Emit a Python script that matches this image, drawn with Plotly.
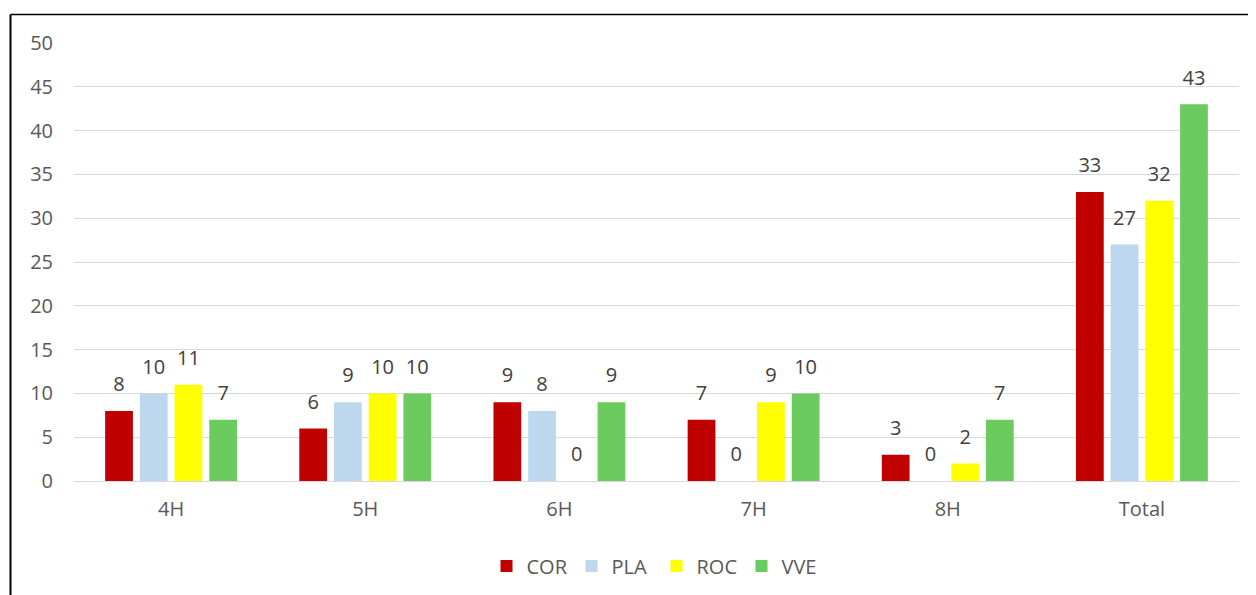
import plotly.graph_objects as go

categories = ["4H", "5H", "6H", "7H", "8H", "Total"]
series_names = ["COR", "PLA", "ROC", "VVE"]
cor = [8, 6, 9, 7, 3, 33]
pla = [10, 9, 8, 0, 0, 27]
roc = [11, 10, 0, 9, 2, 32]
vve = [7, 10, 9, 10, 7, 43]
colors = ["#C00000", "#BDD7EE", "#FFFF00", "#6BCB5E"]
y_ticks = [0, 5, 10, 15, 20, 25, 30, 35, 40, 45, 50]

FONT = "'Open Sans', Lato, sans-serif"
FS = 20

fig = go.Figure()
for name, vals, col in zip(series_names, [cor, pla, roc, vve], colors):
    fig.add_trace(go.Bar(
        x=categories, y=vals, name=name, offsetgroup=name,
        marker=dict(color=col, line=dict(width=0)),
    ))
for name, vals in zip(series_names, [cor, pla, roc, vve]):
    fig.add_trace(go.Scatter(
        x=categories, y=vals, offsetgroup=name, showlegend=False,
        mode="markers+text", marker=dict(size=22, opacity=0),
        text=[str(v) for v in vals], textposition="top center",
        textfont=dict(size=FS, color="#404040", family=FONT),
        cliponaxis=False, hoverinfo="skip",
    ))

# browser body margin shifts the figure by 8px
OFF = 8
L, R, T, B = 74 - OFF, 17 + OFF, 43 - OFF, 114 + OFF
W, H = 1256, 595
pw, ph = W - L - R, H - T - B

def px_x(x):
    return (x - OFF - L) / pw

def px_y(y):
    return (H - B - (y - OFF)) / ph

fig.update_layout(
    width=W, height=H,
    margin=dict(l=L, r=R, t=T, b=B, autoexpand=False),
    plot_bgcolor="white", paper_bgcolor="white",
    barmode="group", bargap=0.285, bargroupgap=0.2,
    scattermode="group", scattergap=0.285,
    font=dict(family=FONT, color="#595959", size=FS),
    showlegend=True,
    legend=dict(orientation="h", x=0.5, xanchor="center", y=px_y(566), yanchor="middle",
                font=dict(size=FS, color="#595959"), itemwidth=30, traceorder="normal",
                entrywidth=40),
    xaxis=dict(showgrid=False, showline=False, zeroline=False, ticks="",
               tickfont=dict(size=FS, color="#595959"), ticklabelstandoff=14),
    yaxis=dict(range=[0, 50], tickvals=y_ticks, showgrid=True, gridcolor="#D9D9D9",
               gridwidth=1.3, zeroline=True, zerolinecolor="#D9D9D9", zerolinewidth=1.3,
               showline=False, ticks="", tickfont=dict(size=FS, color="#595959"),
               ticklabelstandoff=20),
    shapes=[
        dict(type="line", xref="paper", yref="paper", x0=px_x(10.5), x1=px_x(1270),
             y0=px_y(14.5), y1=px_y(14.5), line=dict(color="black", width=1.5)),
        dict(type="line", xref="paper", yref="paper", x0=px_x(10.5), x1=px_x(10.5),
             y0=px_y(14.5), y1=px_y(610), line=dict(color="black", width=2)),
    ],
)

fig.write_html("out.html")
